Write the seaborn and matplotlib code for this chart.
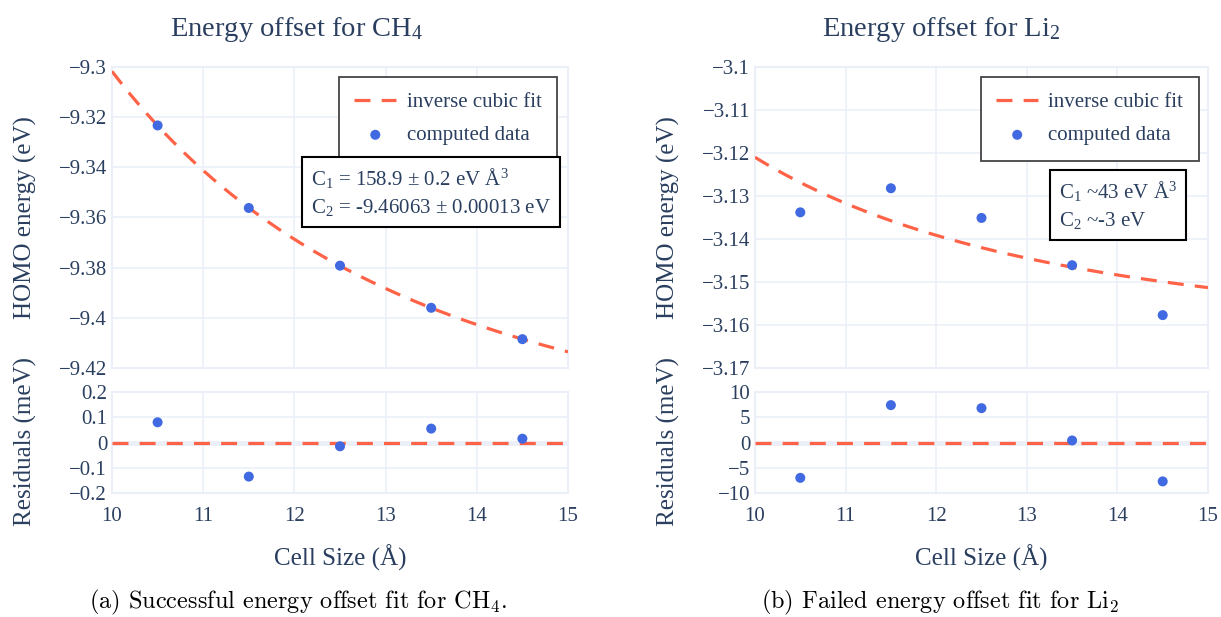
import numpy as np
import pandas as pd
import matplotlib
matplotlib.use("Agg")
import matplotlib.pyplot as plt
from matplotlib.ticker import FuncFormatter
import seaborn as sns

# data
cell_size = [10.5, 11.5, 12.5, 13.5, 14.5]

ch4_energy = [-9.3233, -9.3562, -9.3792, -9.3960, -9.4085]
ch4_resid = [0.08, -0.135, -0.015, 0.055, 0.015]
ch4_c1, ch4_c2 = 158.9, -9.46063

li2_energy = [-3.1338, -3.1282, -3.1351, -3.1461, -3.1577]
li2_resid = [-7.0, 7.4, 6.8, 0.4, -7.7]
li2_c1, li2_c2 = 43.06, -3.16406

ch4_yticks = [-9.3, -9.32, -9.34, -9.36, -9.38, -9.4, -9.42]
ch4_rticks = [0.2, 0.1, 0, -0.1, -0.2]
li2_yticks = [-3.1, -3.11, -3.12, -3.13, -3.14, -3.15, -3.16, -3.17]
li2_rticks = [10, 5, 0, -5, -10]
x_ticks = [10, 11, 12, 13, 14, 15]

sns.set_theme(style="white")
plt.rcParams["font.family"] = ["Liberation Serif", "DejaVu Serif"]
plt.rcParams["mathtext.fontset"] = "custom"
plt.rcParams["mathtext.rm"] = "Liberation Serif"
plt.rcParams["mathtext.it"] = "Liberation Serif:italic"

TXT = "#2a3f5f"
GRID = "#EBF0F8"
RED = "#FF6347"
BLUE = "#4169E1"
DASH = (0, (5, 3.5))

fmt = FuncFormatter(lambda v, p: f"{v:g}".replace("-", "\u2212"))

fig = plt.figure(figsize=(12.21, 6.17), dpi=100)
W, H = 1221, 617


def px_axes(x0, x1, y0, y1):
    return fig.add_axes([x0 / W, 1 - y1 / H, (x1 - x0) / W, (y1 - y0) / H])


def style(ax, yticks, ylim, show_x):
    ax.set_xlim(10, 15)
    ax.set_ylim(*ylim)
    ax.set_xticks(x_ticks)
    ax.set_yticks(yticks)
    ax.yaxis.set_major_formatter(fmt)
    ax.grid(True, color=GRID, lw=1.2, zorder=0)
    ax.set_axisbelow(True)
    for s in ax.spines.values():
        s.set_color(GRID)
        s.set_linewidth(1.5)
    ax.tick_params(axis="both", direction="in", length=6, width=1, color="#444",
                   labelsize=15, labelcolor=TXT, pad=3.5)
    ax.tick_params(axis="x", labelbottom=show_x, pad=10)
    ax.set_xlabel("")
    ax.set_ylabel("")
    for tk in [ax.yaxis.get_major_ticks()[0], ax.yaxis.get_major_ticks()[-1]]:
        tk.tick1line.set_visible(False)
    if show_x:
        for tk in [ax.xaxis.get_major_ticks()[0], ax.xaxis.get_major_ticks()[-1]]:
            tk.tick1line.set_visible(False)
    else:
        ax.tick_params(axis="x", length=0)


def panel(x0, x1, energy, resid, c1, c2, yticks, ylim, rticks, rlim,
          formula, fpos, leg_anchor):
    ax = px_axes(x0, x1, 67, 368)
    rx = px_axes(x0, x1, 392, 493)

    fit_x = np.linspace(10, 15, 200)
    fit = pd.DataFrame({"x": fit_x, "y": c2 + c1 / fit_x ** 3})
    pts = pd.DataFrame({"x": cell_size, "y": energy, "r": resid})

    sns.lineplot(data=fit, x="x", y="y", ax=ax, color=RED, lw=2.3,
                 linestyle=DASH, label="inverse cubic fit", zorder=3)
    sns.scatterplot(data=pts, x="x", y="y", ax=ax, color=BLUE, s=52,
                    edgecolor="none", label="computed data", zorder=4)
    leg = ax.legend(loc="upper right", bbox_to_anchor=leg_anchor, fontsize=15,
                    frameon=True, fancybox=False, edgecolor="#444",
                    framealpha=1, borderpad=0.75, labelspacing=0.65,
                    handlelength=2.0, handletextpad=0.5, borderaxespad=0)
    leg.get_frame().set_linewidth(1.3)
    for t in leg.get_texts():
        t.set_color(TXT)
    ax.text(fpos[0], fpos[1], formula, transform=ax.transAxes, fontsize=15,
            color=TXT, va="top", ha="left", linespacing=1.45, zorder=6,
            bbox=dict(boxstyle="square,pad=0.42", fc="white", ec="black", lw=1.5))
    style(ax, yticks, ylim, False)

    rx.axhline(0, color=GRID, lw=3.5, zorder=1)
    zero = pd.DataFrame({"x": [10, 15], "y": [0, 0]})
    sns.lineplot(data=zero, x="x", y="y", ax=rx, color=RED, lw=2.3,
                 linestyle=DASH, zorder=3)
    sns.scatterplot(data=pts, x="x", y="r", ax=rx, color=BLUE, s=52,
                    edgecolor="none", zorder=4)
    style(rx, rticks, rlim, True)
    return ax, rx


panel(112, 568, ch4_energy, ch4_resid, ch4_c1, ch4_c2, ch4_yticks, (-9.42, -9.30),
      ch4_rticks, (-0.2, 0.2),
      "C$_1$ = 158.9 \u00b1 0.2 eV \u00c5$^3$\nC$_2$ = -9.46063 \u00b1 0.00013 eV",
      (0.436, 0.672), (0.976, 0.967))
panel(755, 1208, li2_energy, li2_resid, li2_c1, li2_c2, li2_yticks, (-3.17, -3.10),
      li2_rticks, (-10, 10),
      "C$_1$ ~43 eV \u00c5$^3$\nC$_2$ ~-3 eV",
      (0.671, 0.628), (0.980, 0.967))

# titles, axis labels, captions
for cx, title in [(297, "Energy offset for CH$_4$"), (941, "Energy offset for Li$_2$")]:
    fig.text(cx / W, 1 - 29 / H, title, ha="center", va="center", fontsize=20.5, color=TXT)
for lx, cx in [(25, 340), (668, 981)]:
    fig.text(lx / W, 1 - 218 / H, "HOMO energy (eV)", rotation=90, ha="center",
             va="center", fontsize=18, color=TXT)
    fig.text(lx / W, 1 - 442 / H, "Residuals (meV)", rotation=90, ha="center",
             va="center", fontsize=18, color=TXT)
    fig.text(cx / W, 1 - 558 / H, "Cell Size (\u00c5)", ha="center", va="center",
             fontsize=18, color=TXT)
for cx, cap in [(298, "(a) Successful energy offset fit for CH$_4$."),
                (940, "(b) Failed energy offset fit for Li$_2$")]:
    fig.text(cx / W, 1 - 602 / H, cap, ha="center", va="center", fontsize=17.5,
             color="black", family=["cmr10", "DejaVu Serif"], math_fontfamily="cm")

fig.savefig("out.png", dpi=100)
